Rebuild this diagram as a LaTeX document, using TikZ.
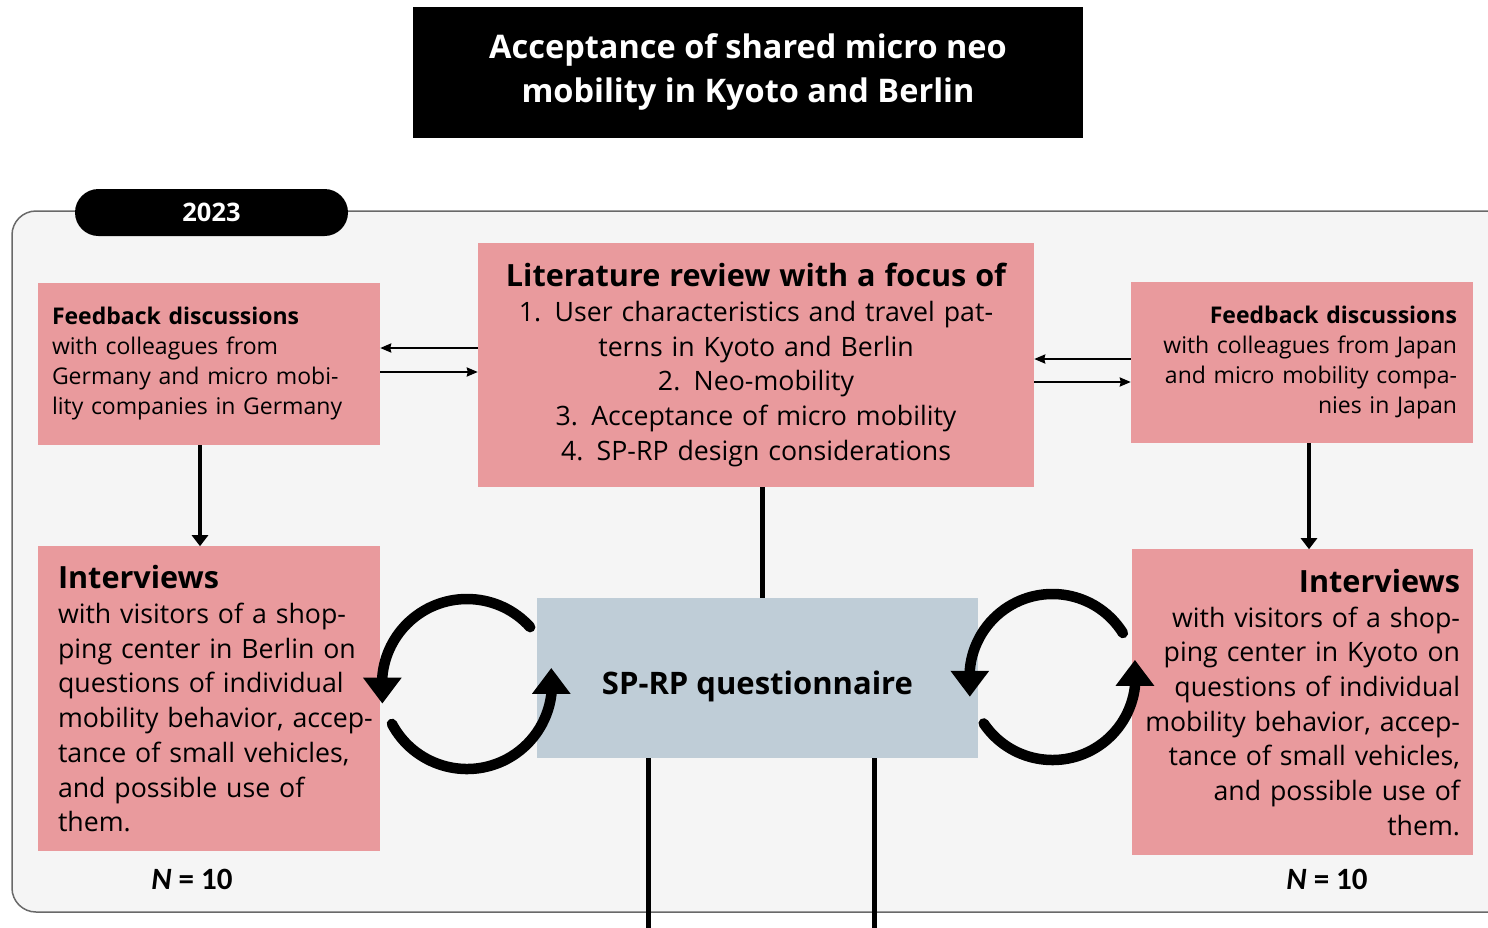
\documentclass[tikz,border=0pt]{standalone}
\usepackage{fontspec}
\setmainfont{Open Sans}
\newfontfamily\calfont{Carlito}
\usetikzlibrary{positioning,arrows.meta,calc}
\definecolor{rosefill}{RGB}{233,154,157}
\definecolor{steelfill}{RGB}{191,205,215}
\definecolor{panelgray}{RGB}{245,245,245}
\definecolor{panelline}{RGB}{105,105,105}
\newcommand{\titlefont}{\bfseries\fontsize{32.5}{44}\selectfont}
\newcommand{\fbfont}{\fontsize{23}{30}\selectfont}
\newcommand{\bodyfont}{\fontsize{26.7}{34.7}\selectfont}
\newcommand{\headfont}{\bfseries\fontsize{30.6}{36}\selectfont}
\newcommand{\countfont}{\calfont\bfseries\fontsize{31}{34}\selectfont}
\tikzset{
  box/.style={rectangle, inner ysep=0pt, align=center, text=black},
  rosebox/.style={box, fill=rosefill},
  steelbox/.style={box, fill=steelfill},
  blackbox/.style={box, fill=black, text=white},
  thinarrow/.style={-{Stealth[length=11pt,width=9pt,inset=1pt]}, line width=2.2pt},
  arrow/.style={-{Triangle[length=11pt,width=16pt]}, line width=4.5pt},
  link/.style={line width=5pt},
  looparrow/.style={-{Triangle[length=26pt,width=37pt]}, line width=10.5pt, line cap=round},
}

\begin{document}
\begin{tikzpicture}[x=1pt, y=-1pt]
  \useasboundingbox (0,0) rectangle (1488,927);
  \clip (0,0) rectangle (1488,927);

  % panel for the year
  \draw[rounded corners=24pt, fill=panelgray, draw=panelline, line width=1.5pt]
    (12,211) rectangle (1512,912);

  \node[blackbox, minimum width=670pt, minimum height=131pt, font=\titlefont] (title) at (748,72)
    {Acceptance of shared micro neo\\mobility in Kyoto and Berlin};
  \node[blackbox, rounded corners=23.5pt, minimum width=273pt, minimum height=47pt,
        font=\bfseries\fontsize{25.5}{28}\selectfont] (year) at (211.5,212.5) {2023};

  \node[rosebox, minimum width=342pt, minimum height=162pt, text width=314pt, inner xsep=14pt,
        align=left, font=\fbfont] (fbleft) at (209,364)
    {\textbf{Feedback discussions}\\with colleagues from\\Germany and micro mobi-\\lity companies in Germany};
  \node[rosebox, minimum width=556pt, minimum height=244pt, text width=520pt, inner xsep=18pt,
        font=\bodyfont] (lit) at (756,365)
    {{\headfont Literature review with a focus of}\\
     1.\enspace User characteristics and travel pat-\\terns in Kyoto and Berlin\\
     2.\enspace Neo-mobility\\3.\enspace Acceptance of micro mobility\\
     4.\enspace SP-RP design considerations};
  \node[rosebox, minimum width=342pt, minimum height=161pt, text width=310pt, inner xsep=16pt,
        align=right, font=\fbfont] (fbright) at (1302,362.5)
    {\textbf{Feedback discussions}\\with colleagues from Japan\\and micro mobility compa-\\nies in Japan};

  \node[rosebox, below=101pt of fbleft, minimum width=342pt, minimum height=305pt, text width=302pt,
        inner xsep=20pt, align=left, font=\bodyfont] (intleft)
    {{\headfont Interviews}\\with visitors of a shop-\\ping center in Berlin on\\questions of individual\\
     \mbox{mobility behavior, accep-}\\tance of small vehicles,\\and possible use of\\them.};
  \node[rosebox, below=106pt of fbright, minimum width=341pt, minimum height=306pt, text width=316pt,
        inner xsep=12.5pt, align=right, font=\bodyfont] (intright)
    {{\headfont Interviews}\\with visitors of a shop-\\ping center in Kyoto on\\questions of individual\\
     \mbox{mobility behavior, accep-}\\tance of small vehicles,\\and possible use of\\them.};

  \node[steelbox, minimum width=441pt, minimum height=160pt, text height=32pt, text depth=0pt,
        font=\bfseries\fontsize{31}{36}\selectfont] (sprp) at (757.5,678) {SP-RP questionnaire};

  \node[font=\countfont] (nleft) at (192,879) {\textit{N} = 10};
  \node[font=\countfont] (nright) at (1327,879) {\textit{N} = 10};

  % exchange with the feedback rounds
  \draw[thinarrow] ([yshift=17pt]lit.west) -- ([yshift=17pt]lit.west -| fbleft.east);
  \draw[thinarrow] ([yshift=-7pt]lit.west -| fbleft.east) -- ([yshift=-7pt]lit.west);
  \draw[thinarrow] ([yshift=6pt]lit.east -| fbright.west) -- ([yshift=6pt]lit.east);
  \draw[thinarrow] ([yshift=-17pt]lit.east) -- ([yshift=-17pt]lit.east -| fbright.west);

  \draw[arrow] ([xshift=-9pt]fbleft.south) -- ([xshift=-9pt]fbleft.south |- intleft.north);
  \draw[arrow] ([xshift=7pt]fbright.south) -- ([xshift=7pt]fbright.south |- intright.north);
  \draw[link] ([xshift=6pt]lit.south) -- ([xshift=6pt]lit.south |- sprp.north);

  \coordinate (outA) at (648,940);
  \coordinate (outB) at (874,940);
  \draw[link] (outA |- sprp.south) -- (outA);
  \draw[link] (outB |- sprp.south) -- (outB);

  % loops between interviews and questionnaire
  \coordinate (loopL) at (467,684);
  \coordinate (loopR) at (1052.5,677);
  \draw[looparrow] ($(loopL)+(-42:85)$) arc[start angle=-42, end angle=-175, radius=85] -- ++(0,27);
  \draw[looparrow] ($(loopL)+(152:85)$) arc[start angle=152, end angle=7.4, radius=85] -- ++(0,-27);
  \draw[looparrow] ($(loopR)+(-32:83)$) arc[start angle=-32, end angle=-175, radius=83] -- ++(0,27);
  \draw[looparrow] ($(loopR)+(146:83)$) arc[start angle=146, end angle=6.8, radius=83] -- ++(0,-27);
\end{tikzpicture}
\end{document}
